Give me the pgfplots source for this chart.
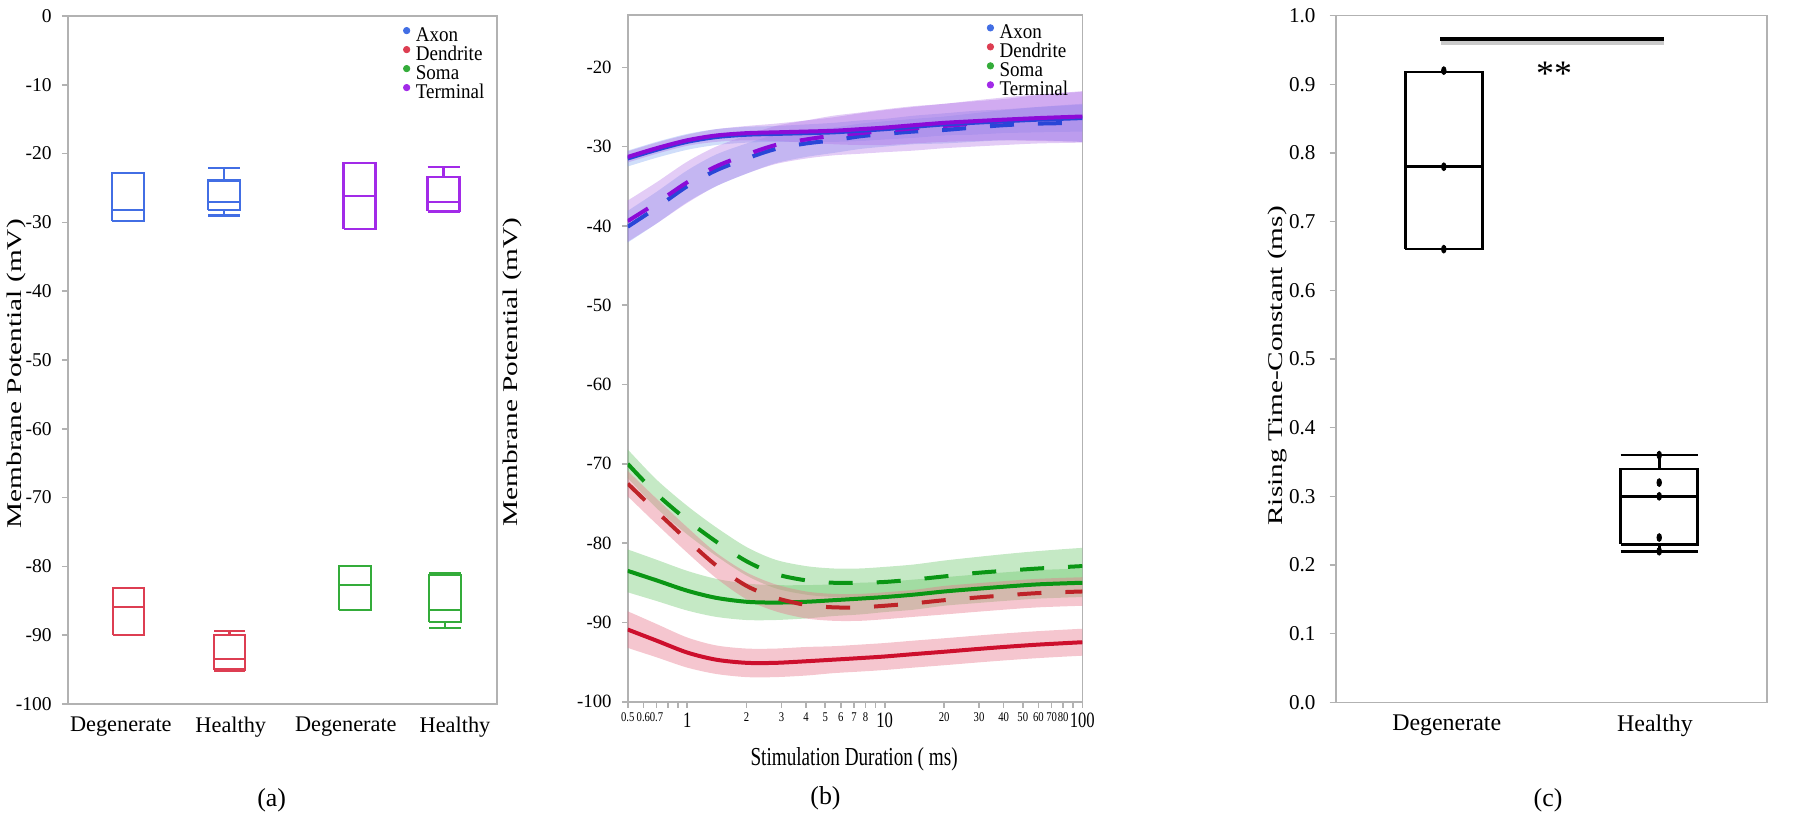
\documentclass[border=0pt]{standalone}
\usepackage{fontspec}
\setmainfont{Liberation Serif}
\usepackage{graphicx}
\usepackage{pgfplots}
\pgfplotsset{compat=1.18}
\usepackage{pgfplotstable}

\definecolor{axonA}{RGB}{66,110,228}
\definecolor{dendA}{RGB}{221,62,82}
\definecolor{somaA}{RGB}{52,172,58}
\definecolor{termA}{RGB}{162,42,232}
\definecolor{axisgray}{RGB}{178,178,178}
\definecolor{purpL}{RGB}{140,10,215}
\definecolor{blueL}{RGB}{40,70,215}
\definecolor{greenL}{RGB}{10,150,20}
\definecolor{redL}{RGB}{205,15,45}
\definecolor{redD}{RGB}{190,35,40}
\definecolor{purpB}{RGB}{175,110,230}
\definecolor{blueB}{RGB}{120,160,240}
\definecolor{greenB}{RGB}{110,200,110}
\definecolor{redB}{RGB}{232,120,140}

\newcommand\tks[1]{\scalebox{0.8}[1]{\fontsize{6.7}{7}\selectfont #1}}
\newcommand\tkb[1]{\scalebox{0.76}[1]{\fontsize{11}{12}\selectfont #1}}
\newcommand\lgd[1]{\scalebox{0.91}[1]{#1}}

% panel (b): mean curves
\pgfplotstableread{
x TH AH AD TD SD SH DD DH
0.5 -31.3 -31.5 -40.1 -39.4 -70.0 -83.5 -72.5 -90.9
0.7 -30.2 -30.4 -37.7 -37.1 -73.8 -84.7 -76.0 -92.3
1 -29.2 -29.4 -35.0 -34.5 -77.1 -86.0 -79.6 -93.8
1.4 -28.6 -28.8 -33.0 -32.5 -79.8 -86.9 -82.8 -94.7
2 -28.3 -28.5 -31.5 -31.0 -82.3 -87.4 -85.4 -95.1
2.8 -28.2 -28.4 -30.3 -29.8 -83.9 -87.5 -86.9 -95.1
4 -28.1 -28.3 -29.6 -29.1 -84.7 -87.4 -87.8 -94.9
5.5 -28.0 -28.2 -29.2 -28.6 -85.0 -87.2 -88.1 -94.7
7.5 -27.8 -28.0 -28.7 -28.3 -85.0 -87.0 -88.1 -94.5
10 -27.6 -27.8 -28.4 -28.0 -84.9 -86.8 -87.9 -94.3
14 -27.3 -27.5 -28.1 -27.7 -84.6 -86.5 -87.6 -94.0
20 -27.0 -27.2 -27.9 -27.4 -84.2 -86.1 -87.2 -93.7
28 -26.8 -27.0 -27.6 -27.1 -83.8 -85.8 -86.9 -93.4
40 -26.6 -26.8 -27.3 -26.8 -83.5 -85.5 -86.6 -93.1
60 -26.4 -26.6 -27.1 -26.5 -83.2 -85.2 -86.3 -92.8
100 -26.2 -26.4 -27.0 -26.3 -82.9 -85.0 -86.1 -92.5
}\means

% panel (b): shaded bands as closed outlines (upper edge left to right, lower edge right to left)
\pgfplotstableread{
x y
0.4 -31.3
0.5 -30.6
0.7 -29.5
1 -28.5
1.4 -27.8
2 -27.4
2.8 -27.1
4 -26.7
5.5 -26.3
7.5 -25.8
10 -25.4
14 -25.0
20 -24.6
28 -24.3
40 -24.0
60 -23.5
100 -23.0
130 -22.8
130 -29.5
100 -29.4
60 -29.3
40 -29.2
28 -29.3
20 -29.4
14 -29.6
10 -29.8
7.5 -29.8
5.5 -29.7
4 -29.5
2.8 -29.3
2 -29.2
1.4 -29.4
1 -29.9
0.7 -30.9
0.5 -32.0
0.4 -32.7
}\bandTH
\pgfplotstableread{
x y
0.4 -31.2
0.5 -30.5
0.7 -29.4
1 -28.4
1.4 -27.8
2 -27.5
2.8 -27.4
4 -27.2
5.5 -27.0
7.5 -26.7
10 -26.5
14 -26.1
20 -25.8
28 -25.5
40 -25.3
60 -25.0
100 -24.7
130 -24.6
130 -28.1
100 -28.1
60 -28.2
40 -28.3
28 -28.5
20 -28.6
14 -28.9
10 -29.1
7.5 -29.3
5.5 -29.4
4 -29.4
2.8 -29.4
2 -29.5
1.4 -29.8
1 -30.4
0.7 -31.4
0.5 -32.5
0.4 -33.2
}\bandAH
\pgfplotstableread{
x y
0.4 -39.7
0.5 -38.1
0.7 -35.7
1 -33.0
1.4 -31.0
2 -29.6
2.8 -28.5
4 -27.9
5.5 -27.6
7.5 -27.1
10 -26.8
14 -26.5
20 -26.2
28 -25.8
40 -25.4
60 -25.0
100 -24.6
130 -24.5
130 -29.5
100 -29.4
60 -29.2
40 -29.2
28 -29.4
20 -29.6
14 -29.7
10 -30.0
7.5 -30.3
5.5 -30.8
4 -31.3
2.8 -32.1
2 -33.4
1.4 -35.0
1 -37.0
0.7 -39.7
0.5 -42.1
0.4 -43.7
}\bandAD
\pgfplotstableread{
x y
0.4 -38.3
0.5 -36.8
0.7 -34.5
1 -31.9
1.4 -30.0
2 -28.6
2.8 -27.4
4 -26.7
5.5 -26.1
7.5 -25.7
10 -25.3
14 -24.9
20 -24.6
28 -24.2
40 -23.8
60 -23.4
100 -23.1
130 -23.0
130 -29.5
100 -29.5
60 -29.6
40 -29.8
28 -30.0
20 -30.2
14 -30.5
10 -30.7
7.5 -30.9
5.5 -31.1
4 -31.5
2.8 -32.2
2 -33.4
1.4 -35.0
1 -37.1
0.7 -39.7
0.5 -42.0
0.4 -43.6
}\bandTD
\pgfplotstableread{
x y
0.4 -65.7
0.5 -68.2
0.7 -72.0
1 -75.3
1.4 -78.0
2 -80.5
2.8 -82.1
4 -82.9
5.5 -83.2
7.5 -83.2
10 -83.0
14 -82.7
20 -82.2
28 -81.8
40 -81.4
60 -81.0
100 -80.6
130 -80.5
130 -85.1
100 -85.2
60 -85.4
40 -85.6
28 -85.8
20 -86.2
14 -86.5
10 -86.8
7.5 -86.8
5.5 -86.8
4 -86.5
2.8 -85.7
2 -84.1
1.4 -81.6
1 -78.9
0.7 -75.6
0.5 -71.8
0.4 -69.3
}\bandSD
\pgfplotstableread{
x y
0.4 -80.0
0.5 -80.8
0.7 -82.1
1 -83.5
1.4 -84.5
2 -85.1
2.8 -85.3
4 -85.3
5.5 -85.2
7.5 -85.0
10 -84.9
14 -84.6
20 -84.3
28 -84.0
40 -83.7
60 -83.4
100 -83.2
130 -83.1
130 -86.7
100 -86.8
60 -87.0
40 -87.3
28 -87.6
20 -87.9
14 -88.4
10 -88.7
7.5 -89.0
5.5 -89.2
4 -89.5
2.8 -89.7
2 -89.7
1.4 -89.3
1 -88.5
0.7 -87.3
0.5 -86.2
0.4 -85.4
}\bandSH
\pgfplotstableread{
x y
0.4 -68.6
0.5 -70.9
0.7 -74.4
1 -78.0
1.4 -81.2
2 -83.7
2.8 -85.2
4 -86.1
5.5 -86.4
7.5 -86.4
10 -86.2
14 -85.9
20 -85.4
28 -85.1
40 -84.8
60 -84.5
100 -84.3
130 -84.2
130 -87.8
100 -87.9
60 -88.1
40 -88.4
28 -88.7
20 -89.0
14 -89.3
10 -89.6
7.5 -89.8
5.5 -89.8
4 -89.5
2.8 -88.6
2 -87.1
1.4 -84.4
1 -81.2
0.7 -77.6
0.5 -74.1
0.4 -71.8
}\bandDD
\pgfplotstableread{
x y
0.4 -87.6
0.5 -88.6
0.7 -90.2
1 -91.9
1.4 -92.9
2 -93.3
2.8 -93.3
4 -93.1
5.5 -93.0
7.5 -92.8
10 -92.6
14 -92.3
20 -92.0
28 -91.7
40 -91.4
60 -91.1
100 -90.8
130 -90.7
130 -94.1
100 -94.2
60 -94.5
40 -94.8
28 -95.1
20 -95.4
14 -95.7
10 -96.0
7.5 -96.2
5.5 -96.4
4 -96.7
2.8 -96.9
2 -96.9
1.4 -96.5
1 -95.7
0.7 -94.4
0.5 -93.2
0.4 -92.2
}\bandDH

\pgfplotsset{
  common/.style={
    scale only axis,
    axis line style={draw=axisgray, line width=0.8bp},
    tick align=outside,
    major tick length=3bp,
    xtick pos=bottom, ytick pos=left,
    ytick style={draw=axisgray, line width=0.8bp},
    yticklabel style={xshift=-1.6bp},
    label style={font=\fontsize{10.5}{12}\selectfont},
  },
  dotleg/.style={legend style={draw=none, fill=none, inner sep=0pt, outer sep=0pt, row sep=0pt,
      font=\fontsize{10.5}{10.5}\selectfont,
      nodes={inner sep=0pt, text height=6.8bp, text depth=2.2bp},
      /tikz/every odd column/.append style={column sep=2.8bp}},
    legend cell align=left},
  ab/.style={line width=1.1bp, forget plot, line join=miter},
  band/.style={draw=none, forget plot, smooth},
  cb/.style={black, line width=1.3bp, forget plot, line join=miter},
}

\begin{document}
\begin{tikzpicture}
\useasboundingbox (0,0) rectangle (900bp,409.5bp);

% ---------------- (a) ----------------
\begin{axis}[common, dotleg,
  at={(34bp,57.5bp)}, anchor=south west, width=214.5bp, height=344bp,
  xmin=0, xmax=429, ymin=-100, ymax=0,
  xtick={52.8,162.8,277.8,387}, xticklabels={Degenerate,Healthy,Degenerate,Healthy},
  xtick style={draw=none},
  xticklabel style={font=\fontsize{11.2}{12}\selectfont},
  ytick={-100,-90,-80,-70,-60,-50,-40,-30,-20,-10,0},
  yticklabels={-100,-90,-80,-70,-60,-50,-40,-30,-20,-10,0},
  yticklabel style={font=\fontsize{9.8}{10}\selectfont},
  ylabel={\scalebox{1.4}[1]{Membrane Potential (mV)}},
  ylabel style={at={(axis description cs:-0.119,0.48)}, anchor=center},
  legend style={at={(rel axis cs:0.781,0.984)}, anchor=north west},
]
% Axon, Degenerate: quartiles -29.8 / -22.8, median -28.2
\addplot[ab, axonA] coordinates {(44,-29.8) (76,-29.8) (76,-22.8) (44,-22.8) (44,-29.8)};
\addplot[ab, axonA] coordinates {(44,-28.2) (76,-28.2)};
% Axon, Healthy: whiskers -29.0 / -22.1, quartiles -28.2 / -23.9, median -27.0
\addplot[ab, axonA] coordinates {(140,-28.2) (172,-28.2) (172,-23.9) (140,-23.9) (140,-28.2)};
\addplot[ab, axonA] coordinates {(140,-27.0) (172,-27.0)};
\addplot[ab, axonA] coordinates {(156,-23.9) (156,-22.1)};
\addplot[ab, axonA] coordinates {(140,-22.1) (172,-22.1)};
\addplot[ab, axonA] coordinates {(156,-28.2) (156,-29.0)};
\addplot[ab, axonA] coordinates {(140,-29.0) (172,-29.0)};
% Dendrite, Degenerate: quartiles -90.0 / -83.1, median -85.9
\addplot[ab, dendA] coordinates {(45,-90.0) (76,-90.0) (76,-83.1) (45,-83.1) (45,-90.0)};
\addplot[ab, dendA] coordinates {(45,-85.9) (76,-85.9)};
% Dendrite, Healthy: whiskers -95.2 / -89.4, quartiles -95.0 / -90.0, median -93.5
\addplot[ab, dendA] coordinates {(146,-95.0) (177,-95.0) (177,-90.0) (146,-90.0) (146,-95.0)};
\addplot[ab, dendA] coordinates {(146,-93.5) (177,-93.5)};
\addplot[ab, dendA] coordinates {(161.5,-90.0) (161.5,-89.4)};
\addplot[ab, dendA] coordinates {(146,-89.4) (177,-89.4)};
\addplot[ab, dendA] coordinates {(146,-95.2) (177,-95.2)};
% Terminal, Degenerate: quartiles -31.0 / -21.4, median -26.2
\addplot[ab, termA] coordinates {(275.5,-31.0) (307.5,-31.0) (307.5,-21.4) (275.5,-21.4) (275.5,-31.0)};
\addplot[ab, termA] coordinates {(275.5,-26.2) (307.5,-26.2)};
% Terminal, Healthy: whiskers -28.5 / -21.9, quartiles -28.3 / -23.4, median -27.0
\addplot[ab, termA] coordinates {(359.5,-28.3) (391.5,-28.3) (391.5,-23.4) (359.5,-23.4) (359.5,-28.3)};
\addplot[ab, termA] coordinates {(359.5,-27.0) (391.5,-27.0)};
\addplot[ab, termA] coordinates {(375.5,-23.4) (375.5,-21.9)};
\addplot[ab, termA] coordinates {(359.5,-21.9) (391.5,-21.9)};
\addplot[ab, termA] coordinates {(359.5,-28.5) (391.5,-28.5)};
% Soma, Degenerate: quartiles -86.3 / -79.9, median -82.7
\addplot[ab, somaA] coordinates {(271,-86.3) (303,-86.3) (303,-79.9) (271,-79.9) (271,-86.3)};
\addplot[ab, somaA] coordinates {(271,-82.7) (303,-82.7)};
% Soma, Healthy: whiskers -88.9 / -81.0, quartiles -88.1 / -81.25, median -86.3
\addplot[ab, somaA] coordinates {(361,-88.1) (393,-88.1) (393,-81.25) (361,-81.25) (361,-88.1)};
\addplot[ab, somaA] coordinates {(361,-86.3) (393,-86.3)};
\addplot[ab, somaA] coordinates {(361,-81.0) (393,-81.0)};
\addplot[ab, somaA] coordinates {(377,-88.1) (377,-88.9)};
\addplot[ab, somaA] coordinates {(361,-88.9) (393,-88.9)};
\addlegendimage{legend image code/.code={\fill[axonA] (0bp,3.2bp) circle (1.6bp);}}
\addlegendentry{\lgd{Axon}}
\addlegendimage{legend image code/.code={\fill[dendA] (0bp,3.2bp) circle (1.6bp);}}
\addlegendentry{\lgd{Dendrite}}
\addlegendimage{legend image code/.code={\fill[somaA] (0bp,3.2bp) circle (1.6bp);}}
\addlegendentry{\lgd{Soma}}
\addlegendimage{legend image code/.code={\fill[termA] (0bp,3.2bp) circle (1.6bp);}}
\addlegendentry{\lgd{Terminal}}
\end{axis}

% ---------------- (b) ----------------
\begin{axis}[common, dotleg,
  at={(313.85bp,58.65bp)}, anchor=south west, width=227.3bp, height=343.35bp,
  xmode=log, log basis x=10,
  xmin=0.5, xmax=100, ymin=-100, ymax=-13.4,
  xtick={0.5,0.6,0.7,0.8,0.9,1,2,3,4,5,6,7,8,9,10,20,30,40,50,60,70,80,90,100},
  xticklabels={\tks{0.5},\tks{0.6},\tks{0.7},{},{},\tkb{1},\tks{2},\tks{3},\tks{4},\tks{5},\tks{6},\tks{7},\tks{8},{},\tkb{10},\tks{20},\tks{30},\tks{40},\tks{50},\tks{60},\tks{70},\tks{80},{},\tkb{100}},
  xminorticks=false,
  xtick style={draw=axisgray, line width=0.8bp},
  xticklabel style={inner sep=2.5bp},
  ytick={-100,-90,-80,-70,-60,-50,-40,-30,-20},
  yticklabels={-100,-90,-80,-70,-60,-50,-40,-30,-20},
  yticklabel style={font=\fontsize{9.4}{10}\selectfont},
  ylabel={\scalebox{1.4}[1]{Membrane Potential (mV)}},
  ylabel style={at={(axis description cs:-0.2545,0.48)}, anchor=center},
  xlabel={\scalebox{0.74}[1]{\fontsize{13}{14}\selectfont Stimulation Duration ( ms)}},
  xlabel style={at={(axis description cs:0.498,-0.0834)}, anchor=center},
  legend style={at={(rel axis cs:0.790,0.9865)}, anchor=north west},
]
% bands
\addplot[band, fill=blueB, fill opacity=0.35] table[x=x,y=y]{\bandAH};
\addplot[band, fill=blueB, fill opacity=0.35] table[x=x,y=y]{\bandAD};
\addplot[band, fill=purpB, fill opacity=0.35] table[x=x,y=y]{\bandTH};
\addplot[band, fill=purpB, fill opacity=0.35] table[x=x,y=y]{\bandTD};
\addplot[band, fill=greenB, fill opacity=0.4] table[x=x,y=y]{\bandSD};
\addplot[band, fill=greenB, fill opacity=0.4] table[x=x,y=y]{\bandSH};
\addplot[band, fill=redB, fill opacity=0.42] table[x=x,y=y]{\bandDD};
\addplot[band, fill=redB, fill opacity=0.42] table[x=x,y=y]{\bandDH};
% lines
\addplot[blueL, line width=2bp, dash pattern=on 12bp off 12bp, smooth, forget plot] table[x=x,y=AD]{\means};
\addplot[purpL, line width=2bp, dash pattern=on 12bp off 12bp, smooth, forget plot] table[x=x,y=TD]{\means};
\addplot[blueL, line width=2bp, smooth, forget plot] table[x=x,y=AH]{\means};
\addplot[purpL, line width=2bp, smooth, forget plot] table[x=x,y=TH]{\means};
\addplot[greenL, line width=2bp, dash pattern=on 12bp off 12bp, smooth, forget plot] table[x=x,y=SD]{\means};
\addplot[greenL, line width=2bp, smooth, forget plot] table[x=x,y=SH]{\means};
\addplot[redD, line width=2bp, dash pattern=on 12bp off 12bp, smooth, forget plot] table[x=x,y=DD]{\means};
\addplot[redL, line width=2bp, smooth, forget plot] table[x=x,y=DH]{\means};
\addlegendimage{legend image code/.code={\fill[axonA] (0bp,3.2bp) circle (1.6bp);}}
\addlegendentry{\lgd{Axon}}
\addlegendimage{legend image code/.code={\fill[dendA] (0bp,3.2bp) circle (1.6bp);}}
\addlegendentry{\lgd{Dendrite}}
\addlegendimage{legend image code/.code={\fill[somaA] (0bp,3.2bp) circle (1.6bp);}}
\addlegendentry{\lgd{Soma}}
\addlegendimage{legend image code/.code={\fill[termA] (0bp,3.2bp) circle (1.6bp);}}
\addlegendentry{\lgd{Terminal}}
\end{axis}

% ---------------- (c) ----------------
\begin{axis}[common,
  at={(667.85bp,58.35bp)}, anchor=south west, width=215.5bp, height=343.3bp,
  xmin=0, xmax=431, ymin=0, ymax=1,
  xtick={111,319.3}, xticklabels={Degenerate,Healthy},
  xtick style={draw=none},
  xticklabel style={font=\fontsize{12}{13}\selectfont},
  ytick={0,0.1,0.2,0.3,0.4,0.5,0.6,0.7,0.8,0.9,1},
  yticklabels={0.0,0.1,0.2,0.3,0.4,0.5,0.6,0.7,0.8,0.9,1.0},
  yticklabel style={font=\fontsize{10.6}{11}\selectfont, xshift=-2bp},
  ylabel={\scalebox{1.4}[1]{Rising Time-Constant (ms)}},
  ylabel style={at={(axis description cs:-0.136,0.49)}, anchor=center},
]
% Degenerate box (min 0.66, median 0.78, max 0.918)
\addplot[cb] coordinates {(69.6,0.66) (146.6,0.66) (146.6,0.918) (69.6,0.918) (69.6,0.66)};
\addplot[cb] coordinates {(69.6,0.78) (146.6,0.78)};
% Healthy box (whiskers 0.22 / 0.36, quartiles 0.23 / 0.34, median 0.30)
\addplot[cb] coordinates {(285,0.23) (362,0.23) (362,0.34) (285,0.34) (285,0.23)};
\addplot[cb] coordinates {(285,0.30) (362,0.30)};
\addplot[cb] coordinates {(323.5,0.34) (323.5,0.36)};
\addplot[cb] coordinates {(285,0.36) (362,0.36)};
\addplot[cb] coordinates {(323.5,0.23) (323.5,0.22)};
\addplot[cb] coordinates {(285,0.22) (362,0.22)};
\addplot[only marks, mark=*, mark size=1.15bp, mark options={yscale=1.7, fill=black, draw=black}, forget plot] coordinates {(108.1,0.92) (108.1,0.78) (108.1,0.66)};
\addplot[only marks, mark=*, mark size=1.15bp, mark options={yscale=1.7, fill=black, draw=black}, forget plot] coordinates {(323.5,0.36) (323.5,0.32) (323.5,0.30) (323.5,0.24) (323.5,0.22)};
\addplot[black!35, opacity=0.6, line width=3bp, forget plot] coordinates {(104.8,0.962) (328.6,0.962)};
\addplot[black, line width=2.4bp, forget plot] coordinates {(104.3,0.966) (328.6,0.966)};
\node[font=\fontsize{18}{18}\selectfont] at (axis cs:218.3,0.915) {**};
\end{axis}

\node[font=\fontsize{13}{14}\selectfont] at (135.85bp,9.5bp) {(a)};
\node[font=\fontsize{13}{14}\selectfont] at (412.75bp,10.5bp) {(b)};
\node[font=\fontsize{13}{14}\selectfont] at (774bp,9.5bp) {(c)};
\end{tikzpicture}
\end{document}
